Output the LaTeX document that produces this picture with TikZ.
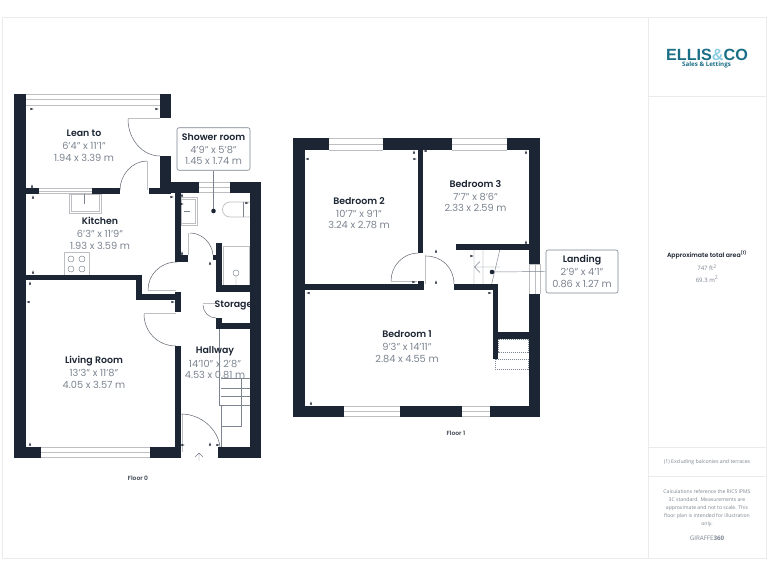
\documentclass[tikz,border=0pt]{standalone}
\usepackage{fontspec}
\setmainfont{Poppins}[BoldFont={Poppins SemiBold}]
\newfontfamily\sidefont{Open Sans}
\newfontfamily\logofont{Liberation Sans}
\definecolor{wallc}{HTML}{1C2533}
\definecolor{dimc}{HTML}{7C8490}
\definecolor{winc}{HTML}{BDBFC2}
\definecolor{panelc}{HTML}{EBEBEB}
\definecolor{logoa}{HTML}{1A6E86}
\definecolor{logob}{HTML}{8CCDE3}
\newcommand{\wl}[4]{\fill[wallc] (#1,#2) rectangle (#3,#4);}
% horizontal window: x1 x2 y1 y2
\newcommand{\hwin}[4]{\fill[white] (#1,#3) rectangle (#2,#4);
 \draw[fixt] (#1,#3) -- (#2,#3) (#1,{(#3+#4)/2}) -- (#2,{(#3+#4)/2}) (#1,#4) -- (#2,#4);}
\newcommand{\tk}[3]{\fill[wallc,shift={(#1,#2)},rotate=#3] (-1.6,-1.1) -- (1.6,0) -- (-1.6,1.1) -- cycle;}
\tikzset{
 fixt/.style={draw=winc,line width=0.7pt},
 fine/.style={draw=dimc,line width=0.45pt},
 arcl/.style={draw=wallc!70,line width=0.5pt},
 roomlabel/.style={align=center,inner sep=0pt,font=\fontsize{9.8}{11.6}\selectfont,text=dimc},
 callout/.style={roomlabel,draw=dimc,line width=0.6pt,fill=white,rounded corners=2pt},
 floorlabel/.style={inner sep=0pt,font=\fontsize{6}{7}\selectfont\bfseries,text=wallc!85},
 sidetext/.style={inner sep=0pt,align=center,text=dimc,font=\sidefont\fontsize{5.2}{8.1}\selectfont},
 rule/.style={draw=panelc,line width=0.7pt},
}
\newcommand{\rn}[1]{{\fontsize{9.4}{11.6}\selectfont\bfseries\color{wallc}#1}\\[1.6pt]}
\begin{document}
\begin{tikzpicture}[x=1pt,y=-1pt]
\useasboundingbox (0,0) rectangle (768,576);
\fill[white] (0,0) rectangle (768,576);
% page frame and side panel
\draw[rule] (2,17) -- (766,17) -- (766,558) -- (2,558) -- cycle;
\draw[rule] (648,17) -- (648,558) (648,96) -- (766,96) (648,447) -- (766,447) (648,476) -- (766,476);
% logo
\node[inner sep=0pt,font=\logofont\fontsize{16.2}{16}\selectfont\bfseries] (logo) at (707,54.5) {\textcolor{logoa}{ELLIS}\textcolor{logob}{\&}\textcolor{logoa}{CO}};
\node[inner sep=0pt,text=logoa,font=\sidefont\fontsize{6.2}{6}\selectfont\bfseries] (logosub) at (706.5,65) {Sales \& Lettings};
\node[inner sep=0pt,text=wallc,font=\fontsize{6.2}{7}\selectfont\bfseries] (areat) at (707,255) {Approximate total area\textsuperscript{(1)}};
\node[sidetext,font=\sidefont\fontsize{6}{8}\selectfont] (areaft) at (707,267.5) {747 ft\textsuperscript{2}};
\node[sidetext,font=\sidefont\fontsize{6}{8}\selectfont] (aream) at (707,279) {69.3 m\textsuperscript{2}};
\node[sidetext] (excl) at (707,462) {(1) Excluding balconies and terraces};
\node[sidetext,font=\sidefont\fontsize{5.1}{8.1}\selectfont] (calc) at (707,508) {Calculations reference the RICS IPMS\\3C standard. Measurements are\\approximate and not to scale. This\\floor plan is intended for illustration\\only.};
\node[sidetext,font=\sidefont\fontsize{6.2}{8}\selectfont] (gir) at (707,538) {GIRAFFE\textbf{360}};
% ---------- FLOOR 0 fixtures
\hwin{26}{160}{94.5}{105}
\hwin{39}{92}{188.5}{193.5}
\hwin{41}{150}{447.5}{457.5}
\hwin{199}{230}{182.5}{192.5}
% sink and cooker
\draw[fixt] (69,194) rectangle (101,213) (71,194) rectangle (99,211);
\draw[fine] (84,194) -- (84,204);
\draw[fixt,fill=white] (64,252) rectangle (89,275);
\foreach \cx/\cy in {71/259,82/259,71/269,82/269}{\draw[fine] (\cx,\cy) circle (3);}
% shower room fittings
\draw[fixt] (181,197) rectangle (197,225) (181,199) rectangle (195,223);
\draw[fine] (184,211) -- (190,211);
\draw[fixt] (250,202) -- (230,202) arc[start angle=270,end angle=90,radius=7.5] -- (250,217);
\draw[fine] (243,202) -- (243,217);
\draw[fixt] (223,246) rectangle (249,285);
\draw[fine] (236,273) circle (3) (236,276) -- (236,285);
% stairs
\draw[fine] (219,329) -- (219,405) -- (250,405) (221,405) -- (221,447)
 (221,378) -- (250,378) (221,388) -- (250,388) (221,396) -- (250,396)
 (241,378) -- (241,426) -- (221,426);
% doors floor 0
\draw[fixt] (128,118.8) -- (160,118.8) (147.5,161) -- (147.5,190) (148,290) -- (176,290)
 (144,313) -- (176,313) (188.8,233) -- (188.8,255) (203,303.8) -- (217,303.8) (182,414) -- (182,452);
\draw[arcl] (128,119) .. controls (128,140) and (143,156) .. (160,156);
\draw[arcl] (120,190) .. controls (120,175) and (132,161) .. (147,161);
\draw[arcl] (148,290) .. controls (148,275) and (160,262) .. (177,262);
\draw[arcl] (144,314) .. controls (144,332) and (158,346) .. (176,346);
\draw[arcl] (190,233) .. controls (202,233) and (212,243) .. (213,255);
\draw[arcl] (203,305) .. controls (203,312) and (209,318) .. (216,318);
\draw[arcl] (181,414) .. controls (201,414) and (218,429) .. (220,447);
% arrow at entrance
\draw[fine] (199,461) -- (199,453) (195,457) -- (199,453) -- (203,457);
% labels floor 0
\node[roomlabel] (leanto) at (84,145.5) {\rn{Lean to}6'4" x 11'1"\\1.94 x 3.39 m};
\node[roomlabel] (kitchen) at (100,233) {\rn{Kitchen}6'3" x 11'9"\\1.93 x 3.59 m};
\node[roomlabel] (living) at (94,372) {\rn{Living Room}13'3" x 11'8"\\4.05 x 3.57 m};
\node[roomlabel] (hallway) at (215,363) {\rn{Hallway}14'10" x 2'8"\\4.53 x 0.81 m};
\node[inner sep=0pt,font=\fontsize{9.4}{10}\selectfont\bfseries,text=wallc] (storage) at (233.5,305) {Storage};
% walls floor 0
\wl{14}{94}{26}{458}
\wl{160}{94}{171}{118}
\wl{160}{156}{171}{193}
\wl{26}{188}{39}{194}
\wl{92}{188}{120}{194}
\wl{149}{188}{171}{194}
\wl{160}{182}{199}{193}
\wl{230}{182}{261}{193}
\wl{250}{182}{261}{458}
\wl{175}{193}{181}{262}
\wl{175}{255}{188}{262}
\wl{216}{243}{222}{292}
\wl{213}{255}{216}{260}
\wl{216}{285}{250}{292}
\wl{216}{318}{222}{329}
\wl{216}{323}{250}{329}
\wl{26}{275}{142}{280}
\wl{136}{275}{142}{300}
\wl{136}{294}{181}{300}
\wl{175}{292}{181}{312}
\wl{175}{346}{181}{458}
\wl{14}{447}{41}{458}
\wl{150}{447}{181}{458}
\wl{218}{447}{261}{458}
% ---------- FLOOR 1
\hwin{329}{383}{138.5}{150}
\hwin{452}{507}{138.5}{150}
\hwin{344}{400}{406}{416.5}
\hwin{462}{490}{406}{416.5}
\fill[white] (529,264) rectangle (540,294);
\draw[fixt] (529,264) -- (529,294) (535,264) -- (535,294) (540,264) -- (540,294) (529,264) -- (540,264);
% stairs floor 1
\draw[fine] (474,249) -- (474,284) (483,249) -- (483,284) (500,249) -- (491.7,284);
\draw[fine] (474,267) -- (500,267) (480,261.5) -- (474.5,267) -- (480,272.5);
% doors floor 1
\draw[fixt] (391,281.8) -- (417,281.8) (425,255) -- (425,284);
\draw[arcl] (391,281) .. controls (391,266) and (403,253) .. (418,253);
\draw[arcl] (426,256) .. controls (442,256) and (454,268) .. (454,284);
% dashed stairs
\draw[fine,dashed,dash pattern=on 1.2pt off 0.8pt] (498,339) rectangle (528,352) (495,359) rectangle (528,369);
% walls floor 1
\wl{293}{138}{329}{150}
\wl{383}{138}{452}{150}
\wl{507}{138}{540}{150}
\wl{293}{138}{304.5}{417}
\wl{529}{138}{540}{264}
\wl{529}{294}{540}{417}
\wl{293}{406}{344}{417}
\wl{400}{406}{462}{417}
\wl{490}{406}{540}{417}
\wl{418}{150}{423}{253}
\wl{304}{284}{424}{290}
\wl{418}{281}{424}{290}
\wl{454}{284}{498}{290}
\wl{493}{284}{498}{358.5}
\wl{498}{332}{529}{338.5}
\wl{456}{244}{529}{249.5}
% ticks
\foreach \x/\y/\a in {32/109/0,157/109/0,32/186/90,33/197/90,172/197/0,33/272/90,182/253/90,182/195/90,182/204/0,210/263/90,247/203/0,
 30/283/90,28/302/180,173/302/0,30/444/90,183/445/0,210/444/90,218/445/0,
 307/159/180,415/159/0,414/152/90,425/151/180,526/152/90,526/242/90,472/256/0,436/251/90,436/282/90,414/282/0,308/293/180,490/293/0,311/403/90}{\tk{\x}{\y}{\a}}
% labels floor 1
\node[roomlabel] (bed2) at (359,213) {\rn{Bedroom 2}10'7" x 9'1"\\3.24 x 2.78 m};
\node[roomlabel] (bed3) at (475.5,196) {\rn{Bedroom 3}7'7" x 8'6"\\2.33 x 2.59 m};
\node[roomlabel] (bed1) at (407,346.5) {\rn{Bedroom 1}9'3" x 14'11"\\2.84 x 4.55 m};
% callouts
\node[callout,minimum width=73pt,minimum height=42.5pt] (shower) at (213.5,149) {\rn{Shower room}4'9" x 5'8"\\1.45 x 1.74 m};
\node[callout,minimum width=72pt,minimum height=43pt] (landing) at (582,271.5) {\rn{Landing}2'9" x 4'1"\\0.86 x 1.27 m};
\coordinate (showerdot) at (213.5,211);
\coordinate (landingdot) at (492,272);
\draw[fine] (shower.south) -- (showerdot);
\draw[fine] (landing.west) -- (landingdot);
\fill[wallc] (showerdot) circle (2.3) (landingdot) circle (2.3);
% floor names
\node[floorlabel] (f0) at (138,478) {Floor 0};
\node[floorlabel] (f1) at (456,433.5) {Floor 1};
\end{tikzpicture}
\end{document}
